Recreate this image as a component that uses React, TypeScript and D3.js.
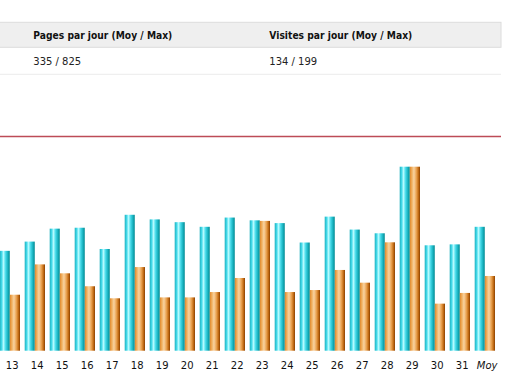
import React from "react";
import * as d3 from "d3";

const days = ["13","14","15","16","17","18","19","20","21","22","23","24","25","26","27","28","29","30","31","Moy"];
const visits = [108,118,132,133,110,147,142,139,134,144,141,138,117,145,131,127,199,114,115,134];
const pages = [251,387,347,289,235,375,239,239,263,326,582,263,272,362,305,486,825,211,259,335];
const headers = ["Pages par jour (Moy / Max)", "Visites par jour (Moy / Max)"];
const summary = ["335 / 825", "134 / 199"];
const series = ["visits", "pages"];

const W = 510, H = 386;
const baseY = 350.7, topY = 166.7;

export default function App() {
  const x = d3.scaleBand<string>().domain(days).range([-0.3, -0.3 + 25 * days.length]).paddingInner(0).paddingOuter(0);
  const inner = d3.scaleBand<string>().domain(series).range([0, 20.3]).padding(0);
  const yV = d3.scaleLinear().domain([0, d3.max(visits) as number]).range([baseY, topY]);
  const yP = d3.scaleLinear().domain([0, d3.max(pages) as number]).range([baseY, topY]);
  const font = "'DejaVu Sans', Verdana, sans-serif";
  return (
    <svg width={W} height={H} style={{ position: "absolute", left: 0, top: 0, background: "#fff" }}>
      <defs>
        <linearGradient id="gc" x1="0" x2="1" y1="0" y2="0">
          <stop offset="0%" stopColor="#1fb0be" />
          <stop offset="18%" stopColor="#3fd6e6" />
          <stop offset="38%" stopColor="#b4fbff" />
          <stop offset="60%" stopColor="#42d8e8" />
          <stop offset="85%" stopColor="#12aab6" />
          <stop offset="100%" stopColor="#00868e" />
        </linearGradient>
        <linearGradient id="go" x1="0" x2="1" y1="0" y2="0">
          <stop offset="0%" stopColor="#e0862a" />
          <stop offset="20%" stopColor="#f0b060" />
          <stop offset="40%" stopColor="#f8d3a2" />
          <stop offset="65%" stopColor="#e9a04e" />
          <stop offset="85%" stopColor="#c06a14" />
          <stop offset="100%" stopColor="#8a4000" />
        </linearGradient>
      </defs>
      <rect x={-1} y={22.3} width={502} height={25} fill="#efefef" stroke="#dcdcdc" strokeWidth={1} />
      <line x1={0} x2={501} y1={74.3} y2={74.3} stroke="#ececec" strokeWidth={1} />
      {headers.map((h, i) => (
        <text key={h} x={i === 0 ? 33.3 : 269.3} y={38.5} fontFamily={font} fontSize={10.5} fontWeight="bold" fill="#111"
          textLength={i === 0 ? 139 : 143} lengthAdjust="spacingAndGlyphs">{h}</text>
      ))}
      {summary.map((s, i) => (
        <text key={s} x={i === 0 ? 33.3 : 269.3} y={64.5} fontFamily={font} fontSize={10} fill="#222">{s}</text>
      ))}
      <line x1={0} x2={501} y1={136.5} y2={136.5} stroke="#bd4b57" strokeWidth={1.5} />
      {days.map((d, i) => {
        const gx = x(d) as number;
        return (
          <g key={d}>
            <rect x={gx + (inner("visits") as number)} y={yV(visits[i])} width={inner.bandwidth() - 0.1}
              height={baseY - yV(visits[i])} fill="url(#gc)" />
            <rect x={gx + (inner("pages") as number)} y={yP(pages[i])} width={inner.bandwidth()}
              height={baseY - yP(pages[i])} fill="url(#go)" />
            <text x={gx + x.bandwidth() * 0.406 + 2.3} y={369} textAnchor="middle" fontFamily={font} fontSize={10}
              fontStyle={d === "Moy" ? "italic" : "normal"} fill="#111">{d}</text>
          </g>
        );
      })}
    </svg>
  );
}
